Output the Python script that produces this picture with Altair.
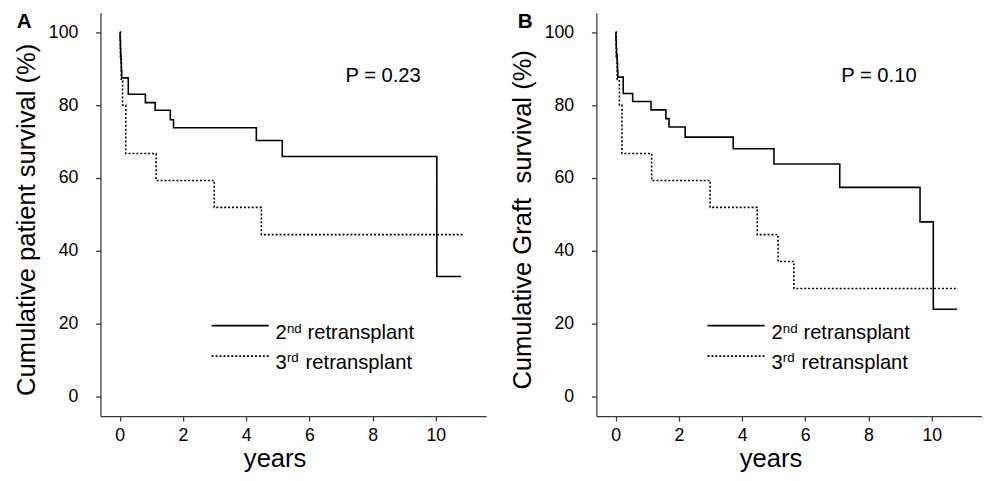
import altair as alt
import pandas as pd

# ---------------- data ----------------
# Panel A : cumulative patient survival (%)
a_solid_t = [0, 0.01, 0.02, 0.03, 0.04, 0.05, 0.06, 0.27, 0.81, 1.12, 1.60, 1.70, 4.32, 5.14, 10.03, 10.80]
a_solid_s = [100, 97.9, 95.8, 93.8, 91.7, 89.6, 87.5, 83.0, 80.7, 78.6, 76.0, 73.8, 70.3, 65.9, 32.9, 32.9]
a_dot_t = [0, 0.02, 0.05, 0.09, 0.19, 1.15, 2.99, 4.48, 10.90]
a_dot_s = [100, 93.3, 86.7, 80.0, 66.7, 59.3, 51.9, 44.4, 44.4]

# Panel B : cumulative graft survival (%)
b_solid_t = [0, 0.01, 0.02, 0.03, 0.05, 0.06, 0.07, 0.24, 0.54, 1.12, 1.59, 1.69, 2.20, 3.72, 5.01, 7.09, 9.63, 10.05, 10.80]
b_solid_s = [100, 97.9, 95.8, 93.8, 91.7, 89.6, 87.7, 83.2, 81.0, 78.7, 76.3, 74.0, 71.2, 68.0, 63.8, 57.4, 47.9, 23.9, 23.9]
b_dot_t = [0, 0.02, 0.05, 0.12, 0.20, 1.14, 2.99, 4.48, 5.14, 5.64, 10.83]
b_dot_s = [100, 93.3, 86.7, 80.0, 66.7, 59.3, 51.9, 44.4, 37.0, 29.6, 29.6]

series_names = ["2nd retransplant", "3rd retransplant"]
legend_num = ["2", "3"]
legend_sup = ["nd", "rd"]
legend_word = ["retransplant", "retransplant"]
p_texts = ["P = 0.23", "P = 0.10"]
panel_letters = ["A", "B"]
y_titles = ["Cumulative patient survival (%)", "Cumulative Graft\u00a0 survival (%)"]
x_title = "years"
x_ticks = [0, 2, 4, 6, 8, 10]
y_ticks = [0, 20, 40, 60, 80, 100]

FONT = "Liberation Sans"
W, H = 392, 410
X_DOM = [-0.61, 11.59]
Y_DOM = [-5.5, 105.4]
AX = "#3a3a3a"


def one(val):
    return pd.DataFrame({"v": [val]})


def panel(st, ss, dt, ds, ptext, letter, ytitle, letter_x):
    df = pd.concat([
        pd.DataFrame({"t": st, "s": ss, "g": series_names[0]}),
        pd.DataFrame({"t": dt, "s": ds, "g": series_names[1]}),
    ])
    lines = alt.Chart(df).mark_line(
        interpolate="step-after", color="black", strokeWidth=1.6
    ).encode(
        x=alt.X("t:Q", scale=alt.Scale(domain=X_DOM, nice=False, zero=False),
                axis=alt.Axis(values=x_ticks, title=x_title, grid=False,
                              titleFontSize=26, titleFontWeight="normal",
                              titleX=177, titleY=51, titleAlign="center",
                              titleBaseline="alphabetic", titleColor="black",
                              labelFontSize=18, labelPadding=6, labelColor="black",
                              tickSize=5, tickColor=AX, domainColor=AX,
                              domainWidth=1.3, tickWidth=1.3)),
        y=alt.Y("s:Q", scale=alt.Scale(domain=Y_DOM, nice=False, zero=False),
                axis=alt.Axis(values=y_ticks, title=ytitle, grid=False,
                              titleFontSize=26, titleFontWeight="normal",
                              titleX=-67, titleY=210, titleAngle=270,
                              titleAlign="center", titleBaseline="alphabetic",
                              titleColor="black",
                              labelFontSize=18, labelPadding=18, labelColor="black",
                              tickSize=5, tickColor=AX, domainColor=AX,
                              domainWidth=1.3, tickWidth=1.3)),
        strokeDash=alt.StrokeDash("g:N", scale=alt.Scale(domain=series_names,
                                                         range=[[1, 0], [2, 2]]),
                                  legend=None),
        detail="g:N",
    )

    leg1 = alt.Chart(one(0)).mark_rule(color="black", strokeWidth=1.6).encode(
        x=alt.value(113), x2=alt.value(171), y=alt.value(318))
    leg2 = alt.Chart(one(0)).mark_rule(color="black", strokeWidth=1.6, strokeDash=[2, 2]).encode(
        x=alt.value(113), x2=alt.value(171), y=alt.value(349))

    def txt(s, x, y, size, weight="normal"):
        return alt.Chart(one(s)).mark_text(
            align="left", baseline="alphabetic", font=FONT, fontSize=size,
            fontWeight=weight, color="black"
        ).encode(text="v:N", x=alt.value(x), y=alt.value(y))

    texts = [
        txt(legend_num[0], 178, 332, 20.5),
        txt(legend_sup[0], 189.5, 325, 13.5),
        txt(legend_word[0], 210.5, 332, 20.5),
        txt(legend_num[1], 178, 362, 20.5),
        txt(legend_sup[1], 189.5, 355, 13.5),
        txt(legend_word[1], 208.5, 362, 20.5),
        txt(ptext, 249, 70, 20.5),
        txt(letter, letter_x, 16, 21, "bold"),
    ]
    return alt.layer(lines, leg1, leg2, *texts).properties(width=W, height=H)


pa = panel(a_solid_t, a_solid_s, a_dot_t, a_dot_s, p_texts[0], panel_letters[0], y_titles[0], -85)
pb = panel(b_solid_t, b_solid_s, b_dot_t, b_dot_s, p_texts[1], panel_letters[1], y_titles[1], -80)

chart = alt.hconcat(pa, pb, spacing=112, bounds="flush").properties(
    padding={"left": 5, "top": 0, "right": 0, "bottom": 0}
).configure(font=FONT).configure_view(stroke=None)

chart.save("out.html", embed_options={"renderer": "svg", "actions": False})
